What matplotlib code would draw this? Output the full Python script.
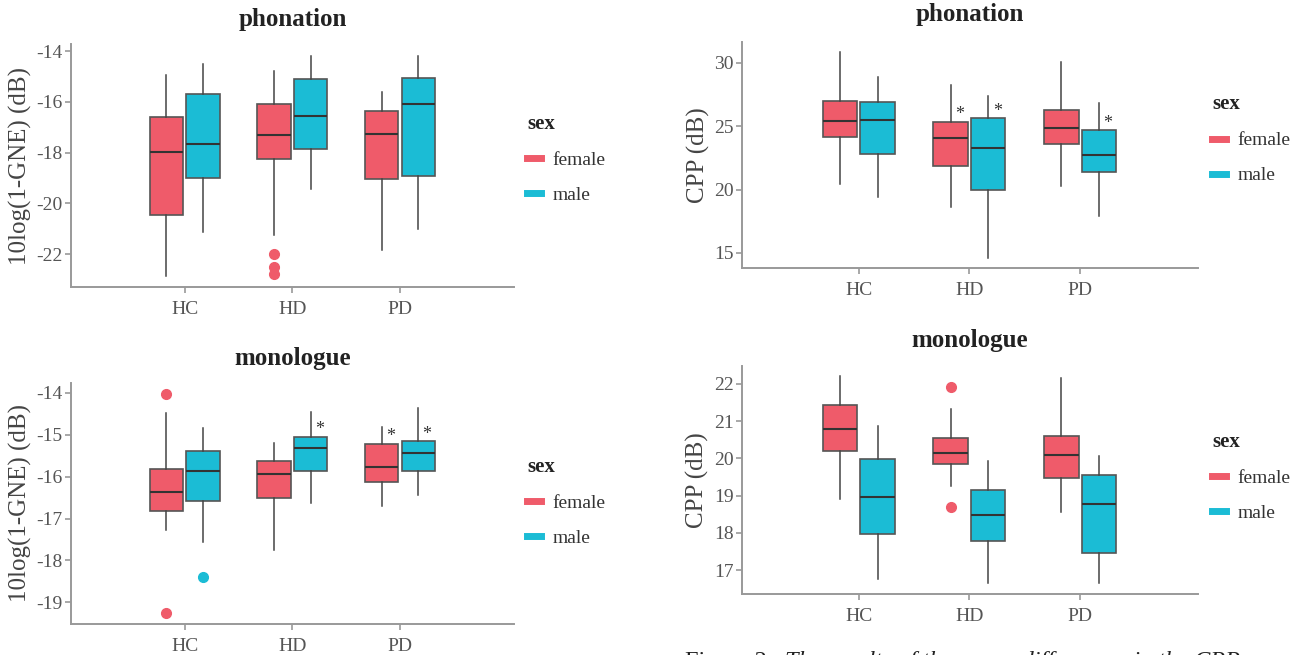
import matplotlib
matplotlib.use("Agg")
import matplotlib.pyplot as plt
from matplotlib.lines import Line2D

plt.rcParams['font.family'] = ['Liberation Serif', 'DejaVu Serif']

groups = ["HC", "HD", "PD"]
sexes = ["female", "male"]
colors = {"female": "#EF5B6A", "male": "#1BBCD5"}

# each entry per group: (whislo, q1, med, q3, whishi)
gne_phon_female = [(-22.87, -20.47, -17.98, -16.61, -14.95),
                   (-21.25, -18.23, -17.30, -16.08, -14.79),
                   (-21.82, -19.02, -17.25, -16.34, -15.62)]
gne_phon_male = [(-21.12, -19.01, -17.64, -15.70, -14.49),
                 (-19.44, -17.86, -16.54, -15.09, -14.20),
                 (-20.99, -18.91, -16.10, -15.06, -14.20)]
gne_phon_fliers_female = [[], [-22.0, -22.5, -22.79], []]
gne_phon_fliers_male = [[], [], []]

cpp_phon_female = [(20.43, 24.18, 25.44, 26.96, 30.87),
                   (18.59, 21.87, 24.07, 25.36, 28.24),
                   (20.32, 23.57, 24.89, 26.25, 30.05)]
cpp_phon_male = [(19.40, 22.81, 25.46, 26.93, 28.85),
                 (14.61, 19.93, 23.31, 25.62, 27.38),
                 (17.88, 21.35, 22.71, 24.68, 26.80)]
cpp_phon_fliers_female = [[], [], []]
cpp_phon_fliers_male = [[], [], []]

gne_mono_female = [(-17.27, -16.82, -16.36, -15.81, -14.49),
                   (-17.75, -16.52, -15.93, -15.64, -15.21),
                   (-16.71, -16.12, -15.76, -15.22, -14.83)]
gne_mono_male = [(-17.57, -16.58, -15.86, -15.38, -14.85),
                 (-16.63, -15.87, -15.31, -15.05, -14.46),
                 (-16.44, -15.87, -15.44, -15.16, -14.37)]
gne_mono_fliers_female = [[-14.03, -19.25], [], []]
gne_mono_fliers_male = [[-18.40], [], []]

cpp_mono_female = [(18.91, 20.21, 20.78, 21.43, 22.20),
                   (19.26, 19.85, 20.14, 20.54, 21.32),
                   (18.56, 19.47, 20.09, 20.61, 22.15)]
cpp_mono_male = [(16.75, 17.97, 18.96, 19.97, 20.88),
                 (16.66, 17.77, 18.49, 19.16, 19.94),
                 (16.64, 17.46, 18.77, 19.55, 20.05)]
cpp_mono_fliers_female = [[], [21.92, 18.68], []]
cpp_mono_fliers_male = [[], [], []]

# significance stars: (group index, sex)
stars_cpp_phon = [(1, "female"), (1, "male"), (2, "male")]
stars_gne_mono = [(1, "male"), (2, "female"), (2, "male")]

panels = [
    dict(rect=[0.0547, 0.5618, 0.341, 0.371], title="phonation", ylabel="10log(1-GNE) (dB)",
         female=gne_phon_female, male=gne_phon_male,
         fl_female=gne_phon_fliers_female, fl_male=gne_phon_fliers_male,
         ylim=(-23.29, -13.72), yticks=[-22, -20, -18, -16, -14], stars=[],
         leg=(0.99, 0.785), tpad=13),
    dict(rect=[0.571, 0.591, 0.351, 0.345], title="phonation", ylabel="CPP (dB)",
         female=cpp_phon_female, male=cpp_phon_male,
         fl_female=cpp_phon_fliers_female, fl_male=cpp_phon_fliers_male,
         ylim=(13.82, 31.65), yticks=[15, 20, 25, 30], stars=stars_cpp_phon,
         leg=(0.994, 0.846), tpad=15),
    dict(rect=[0.0547, 0.0469, 0.341, 0.369], title="monologue", ylabel="10log(1-GNE) (dB)",
         female=gne_mono_female, male=gne_mono_male,
         fl_female=gne_mono_fliers_female, fl_male=gne_mono_fliers_male,
         ylim=(-19.52, -13.76), yticks=[-19, -18, -17, -16, -15, -14], stars=stars_gne_mono,
         leg=(0.99, 0.766), tpad=13),
    dict(rect=[0.571, 0.0927, 0.351, 0.3486], title="monologue", ylabel="CPP (dB)",
         female=cpp_mono_female, male=cpp_mono_male,
         fl_female=cpp_mono_fliers_female, fl_male=cpp_mono_fliers_male,
         ylim=(16.35, 22.48), yticks=[17, 18, 19, 20, 21, 22], stars=[],
         leg=(0.994, 0.788), tpad=14),
]

offset = 0.17
width = 0.31
spine_col = "#999999"

fig = plt.figure(figsize=(12.99, 6.55), dpi=100)

for p in panels:
    ax = fig.add_axes(p["rect"])
    for s, sign in (("female", -1), ("male", 1)):
        stats = []
        for i, (lo, q1, med, q3, hi) in enumerate(p[s]):
            stats.append(dict(whislo=lo, q1=q1, med=med, q3=q3, whishi=hi,
                              fliers=p["fl_" + s][i]))
        pos = [i + sign * offset for i in range(len(groups))]
        ax.bxp(stats, positions=pos, widths=width, patch_artist=True, showcaps=False,
               boxprops=dict(facecolor=colors[s], edgecolor="#555555", linewidth=1.2),
               medianprops=dict(color="#333333", linewidth=1.5),
               whiskerprops=dict(color="#444444", linewidth=1.1),
               flierprops=dict(marker="o", markerfacecolor=colors[s],
                               markeredgecolor=colors[s], markersize=7))
    for gi, s in p["stars"]:
        sign = -1 if s == "female" else 1
        q3 = (p[s][gi])[3]
        ax.annotate("*", xy=(gi + sign * offset + 0.08, q3), xytext=(0, -1),
                    textcoords="offset points", ha="center", va="bottom",
                    fontsize=13, color="#333333")
    ax.set_xlim(-1.056, 3.06)
    ax.set_ylim(*p["ylim"])
    ax.set_xticks(range(len(groups)))
    ax.set_xticklabels(groups)
    ax.set_yticks(p["yticks"])
    ax.set_yticklabels([str(t) for t in p["yticks"]])
    for side in ("top", "right"):
        ax.spines[side].set_visible(False)
    for side in ("left", "bottom"):
        ax.spines[side].set_color(spine_col)
        ax.spines[side].set_linewidth(1.4)
    ax.tick_params(axis="both", colors=spine_col, labelcolor="#555555",
                   labelsize=14, length=4, width=1.2, pad=2)
    ax.tick_params(axis="x", pad=6)
    ax.set_ylabel(p["ylabel"], fontsize=18, color="#444444", labelpad=3)
    ax.set_title(p["title"], fontsize=18, fontweight="bold", color="#222222", pad=p["tpad"])
    handles = [Line2D([0], [0], color=colors[s], linewidth=5) for s in sexes]
    leg = ax.legend(handles, sexes, title="sex", loc="upper left",
                    bbox_to_anchor=p["leg"], frameon=False, fontsize=14,
                    handlelength=0.7, handletextpad=0.6, labelspacing=0.9,
                    alignment="left")
    leg.get_title().set_fontsize(15)
    leg.get_title().set_fontweight("bold")
    leg.get_title().set_color("#222222")
    for t in leg.get_texts():
        t.set_color("#333333")

fig.text(0.527, 0.006, "Figure 2:", fontsize=17.5, va="top", ha="left", color="#222222")
fig.text(0.604, 0.006, "The results of the group differences in the CPP", fontsize=17.5,
         style="italic", va="top", ha="left", color="#222222")

fig.savefig("out.png", dpi=100)
